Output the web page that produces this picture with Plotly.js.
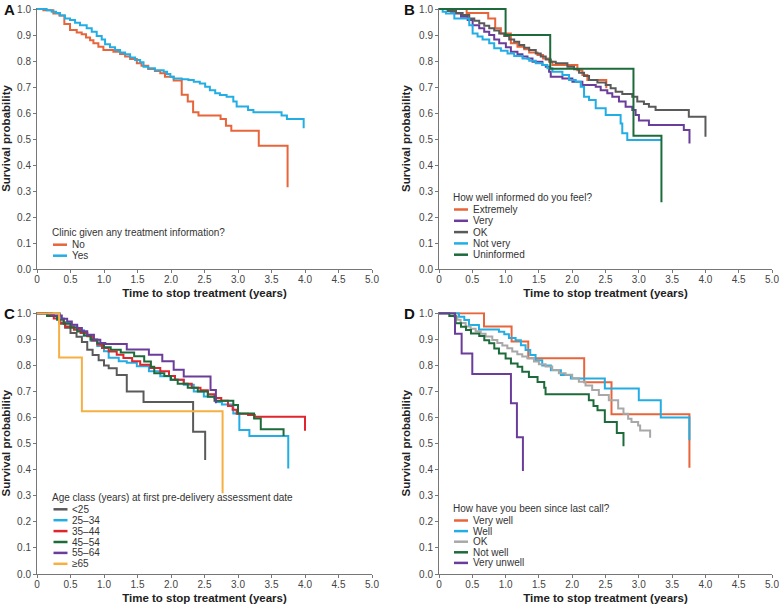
<!DOCTYPE html>
<html><head><meta charset="utf-8">
<script src="https://cdn.plot.ly/plotly-3.0.1.min.js"></script>
<style>html,body{margin:0;padding:0;background:#fff}#chart{width:779px;height:604px}</style>
</head><body><div id="chart"></div>
<script>
// ---------- Tick labels ----------
const xTickVals = [0,0.5,1,1.5,2,2.5,3,3.5,4,4.5,5];
const xTickText = ['0','0.5','1.0','1.5','2.0','2.5','3.0','3.5','4.0','4.5','5.0'];
const yTickVals = [0,0.1,0.2,0.3,0.4,0.5,0.6,0.7,0.8,0.9,1.0];
const yTickText = ['0.0','0.1','0.2','0.3','0.4','0.5','0.6','0.7','0.8','0.9','1.0'];

// ---------- Panel A ----------
const legendTitleA = 'Clinic given any treatment information?';
const namesA = ['No','Yes'];
const noT = [0,0.095,0.244,0.334,0.408,0.493,0.593,0.667,0.732,0.792,0.842,0.916,0.991,1.14,1.24,1.315,1.39,1.49,1.56,1.66,1.76,1.84,1.91,2.04,2.16,2.25,2.33,2.41,2.74,2.82,2.90,3.31,3.74];
const noS = [1.0,0.995,0.983,0.975,0.942,0.919,0.91,0.903,0.891,0.88,0.868,0.855,0.842,0.836,0.827,0.817,0.808,0.791,0.782,0.769,0.762,0.753,0.74,0.725,0.67,0.644,0.603,0.59,0.577,0.551,0.532,0.474,0.314];
const yesT = [0,0.144,0.219,0.284,0.344,0.418,0.493,0.568,0.642,0.742,0.817,0.891,0.966,1.016,1.09,1.165,1.24,1.315,1.39,1.464,1.539,1.59,1.66,1.76,1.89,1.94,1.99,2.04,2.16,2.26,2.34,2.43,2.51,2.58,2.66,2.73,2.83,2.93,2.98,3.15,3.23,3.65,3.73,3.98];
const yesS = [1.0,0.995,0.99,0.985,0.975,0.964,0.958,0.947,0.938,0.926,0.913,0.896,0.883,0.865,0.853,0.842,0.833,0.826,0.814,0.804,0.795,0.778,0.772,0.765,0.759,0.75,0.74,0.733,0.73,0.727,0.72,0.714,0.701,0.688,0.676,0.669,0.663,0.644,0.625,0.612,0.603,0.59,0.577,0.541];

// ---------- Panel B ----------
const legendTitleB = 'How well informed do you feel?';
const namesB = ['Extremely','Very','OK','Not very','Uninformed'];
const extT = [0,0.415,0.739,0.844,0.929,1.079,1.178,1.279,1.354,1.479,1.563,1.653,1.703,2.078,2.153,2.228,2.512];
const extS = [1.0,0.985,0.964,0.926,0.906,0.868,0.855,0.845,0.833,0.823,0.81,0.797,0.785,0.765,0.746,0.727,0.695];
const veryT = [0,0.18,0.255,0.33,0.43,0.505,0.604,0.679,0.754,0.829,0.904,1.004,1.079,1.178,1.253,1.329,1.404,1.553,1.603,1.653,1.678,1.853,2.003,2.153,2.353,2.428,2.527,2.602,2.702,2.802,2.902,2.952,3.002,3.152,3.676,3.761];
const veryS = [1.0,0.99,0.983,0.97,0.958,0.938,0.926,0.913,0.9,0.883,0.868,0.853,0.836,0.826,0.817,0.81,0.797,0.785,0.778,0.759,0.74,0.733,0.72,0.708,0.701,0.688,0.676,0.663,0.644,0.624,0.612,0.592,0.571,0.554,0.535,0.483];
const okBT = [0,0.13,0.255,0.355,0.454,0.53,0.604,0.679,0.754,0.829,0.904,0.979,1.054,1.129,1.204,1.279,1.354,1.453,1.528,1.603,1.678,1.753,1.928,2.028,2.103,2.178,2.253,2.378,2.503,2.577,2.652,2.752,2.902,2.977,3.077,3.152,3.252,3.751,4.001];
const okBS = [1.0,0.992,0.985,0.977,0.964,0.955,0.945,0.936,0.926,0.917,0.906,0.896,0.883,0.874,0.862,0.851,0.842,0.829,0.817,0.806,0.797,0.791,0.778,0.768,0.755,0.742,0.727,0.717,0.708,0.695,0.682,0.673,0.663,0.644,0.635,0.624,0.612,0.586,0.509];
const notT = [0,0.055,0.105,0.23,0.454,0.505,0.579,0.654,0.754,0.829,0.929,1.029,1.129,1.254,1.354,1.453,1.553,1.628,1.703,1.853,1.953,2.053,2.128,2.178,2.253,2.353,2.503,2.727,2.752,2.827,3.342];
const notS = [1.0,0.99,0.983,0.964,0.938,0.906,0.894,0.883,0.868,0.849,0.84,0.829,0.819,0.81,0.801,0.791,0.785,0.772,0.759,0.746,0.727,0.72,0.701,0.663,0.65,0.618,0.592,0.56,0.522,0.496,0.496];
const uninT = [0,1.0,1.67,2.92,3.34];
const uninS = [1.0,0.9,0.77,0.513,0.257];

// ---------- Panel C ----------
const legendTitleC = 'Age class (years) at first pre-delivery assessment date';
const namesC = ['<25','25–34','35–44','45–54','55–64','≥65'];
const lt25T = [0,0.34,0.42,0.5,0.59,0.67,0.75,0.83,0.92,1.0,1.07,1.19,1.34,1.59,2.33,2.51];
const lt25S = [1.0,0.96,0.945,0.925,0.91,0.89,0.86,0.84,0.82,0.80,0.789,0.763,0.70,0.66,0.546,0.437];
const a2534T = [0,0.2,0.3,0.4,0.5,0.6,0.7,0.8,0.9,1.0,1.07,1.22,1.34,1.49,1.67,1.84,1.99,2.19,2.34,2.49,2.67,2.76,2.93,3.02,3.17,3.75];
const a2534S = [1.0,0.99,0.98,0.965,0.95,0.935,0.915,0.895,0.875,0.855,0.83,0.816,0.81,0.797,0.778,0.759,0.745,0.726,0.70,0.681,0.66,0.65,0.616,0.552,0.529,0.405];
const a3544T = [0,0.15,0.25,0.33,0.42,0.55,0.65,0.75,0.82,0.9,0.97,1.07,1.19,1.29,1.42,1.54,1.69,1.84,1.97,2.06,2.19,2.31,2.44,2.55,2.65,2.75,2.85,2.92,2.98,3.15,3.25,4.0];
const a3544S = [1.0,0.995,0.98,0.965,0.95,0.937,0.925,0.912,0.896,0.88,0.867,0.854,0.841,0.829,0.816,0.803,0.79,0.778,0.76,0.745,0.73,0.715,0.705,0.69,0.675,0.665,0.645,0.63,0.615,0.61,0.603,0.55];
const a4554T = [0,0.15,0.3,0.4,0.5,0.6,0.7,0.8,0.9,1.0,1.1,1.25,1.45,1.6,1.7,1.75,1.9,2.0,2.1,2.25,2.4,2.55,2.65,2.93,3.0,3.24,3.34,3.68];
const a4554S = [1.0,0.99,0.975,0.96,0.945,0.93,0.915,0.9,0.885,0.87,0.86,0.85,0.835,0.815,0.795,0.77,0.76,0.745,0.73,0.715,0.70,0.68,0.665,0.648,0.616,0.597,0.555,0.529];
const a5564T = [0,0.22,0.37,0.45,0.52,0.6,0.67,0.75,0.85,0.945,1.02,1.34,1.67,1.87,2.04,2.19,2.59,2.67];
const a5564S = [1.0,0.992,0.979,0.969,0.956,0.944,0.931,0.918,0.899,0.886,0.882,0.861,0.841,0.816,0.784,0.758,0.706,0.655];
const a65T = [0,0.33,0.67,2.77];
const a65S = [1.0,0.831,0.624,0.31];

// ---------- Panel D ----------
const legendTitleD = 'How have you been since last call?';
const namesD = ['Very well','Well','OK','Not well','Very unwell'];
const vwT = [0,0.676,1.09,1.34,2.18,2.59,3.76];
const vwS = [1.0,0.95,0.892,0.828,0.736,0.613,0.408];
const wellT = [0,0.3,0.38,0.45,0.6,0.9,0.98,1.05,1.15,1.23,1.3,1.37,1.45,1.55,1.68,1.83,1.98,2.49,3.0,3.33,3.76];
const wellS = [1.0,0.987,0.974,0.955,0.938,0.929,0.92,0.905,0.897,0.878,0.859,0.84,0.82,0.80,0.782,0.763,0.75,0.712,0.667,0.60,0.513];
const okDT = [0,0.225,0.275,0.325,0.40,0.475,0.55,0.626,0.70,0.80,0.876,0.951,1.026,1.10,1.176,1.25,1.326,1.426,1.50,1.60,1.70,1.80,1.90,2.00,2.10,2.20,2.30,2.40,2.55,2.69,2.77,2.84,2.89,2.99,3.02,3.17];
const okDS = [1.0,0.988,0.975,0.963,0.95,0.941,0.931,0.922,0.911,0.898,0.886,0.877,0.866,0.854,0.843,0.834,0.828,0.815,0.805,0.796,0.783,0.77,0.764,0.751,0.738,0.723,0.706,0.687,0.667,0.635,0.615,0.596,0.583,0.57,0.551,0.523];
const nwT = [0,0.155,0.25,0.33,0.405,0.48,0.604,0.68,0.754,0.83,0.90,1.0,1.08,1.18,1.25,1.35,1.48,1.58,1.6,2.25,2.32,2.38,2.49,2.67,2.77];
const nwS = [1.0,0.99,0.962,0.949,0.936,0.923,0.913,0.897,0.885,0.865,0.846,0.827,0.808,0.795,0.776,0.756,0.737,0.715,0.69,0.667,0.645,0.628,0.583,0.541,0.49];
const vuT = [0,0.24,0.34,0.5,1.08,1.17,1.26];
const vuS = [1.0,0.922,0.846,0.767,0.655,0.525,0.395];

// ---------- Colours ----------
const cRed = '#E8643A', cBlue = '#22AEE4', cPurple = '#6A3D9A', cDGray = '#5A5A5A',
      cGreen = '#1D6B3B', cRed2 = '#E0252F', cYellow = '#F6B042', cLGray = '#A8A8A8';

// ---------- Layout geometry ----------
const W = 779, H = 604;
const M = {l:37, r:7, t:8, b:30};
const PW = W - M.l - M.r, PH = H - M.t - M.b;
const px = x => (x - M.l) / PW;
const py = y => (H - M.b - y) / PH;

const panels = [
  {xa:'x',  ya:'y',  xd:[px(37),px(372)], yd:[py(269),py(8)], letter:'A', lx:2, ly:9,
   title:legendTitleA, tx:51, ty:232.7, step:11,
   series:[[noT,noS,namesA[0],cRed],[yesT,yesS,namesA[1],cBlue]]},
  {xa:'x2', ya:'y2', xd:[px(439),px(772)], yd:[py(269),py(8)], letter:'B', lx:402, ly:9,
   title:legendTitleB, tx:452, ty:197.5, step:11.3,
   series:[[extT,extS,namesB[0],cRed],[veryT,veryS,namesB[1],cPurple],[okBT,okBS,namesB[2],cDGray],[notT,notS,namesB[3],cBlue],[uninT,uninS,namesB[4],cGreen]]},
  {xa:'x3', ya:'y3', xd:[px(37),px(372)], yd:[py(574),py(312.3)], letter:'C', lx:2, ly:313,
   title:legendTitleC, tx:51.5, ty:497.3, step:10.9,
   series:[[lt25T,lt25S,namesC[0],cDGray],[a2534T,a2534S,namesC[1],cBlue],[a3544T,a3544S,namesC[2],cRed2],[a4554T,a4554S,namesC[3],cGreen],[a5564T,a5564S,namesC[4],cPurple],[a65T,a65S,namesC[5],cYellow]]},
  {xa:'x4', ya:'y4', xd:[px(439),px(772)], yd:[py(574),py(312.3)], letter:'D', lx:402, ly:313,
   title:legendTitleD, tx:452, ty:508.5, step:10.6,
   series:[[vwT,vwS,namesD[0],cRed],[wellT,wellS,namesD[1],cBlue],[okDT,okDS,namesD[2],cLGray],[nwT,nwS,namesD[3],cGreen],[vuT,vuS,namesD[4],cPurple]]}
];

const FONT = 'Liberation Sans, Arial, Helvetica, sans-serif';
const traces = [], annotations = [], shapes = [];
const layout = {
  width: W, height: H, margin: M, showlegend: false,
  paper_bgcolor: '#fff', plot_bgcolor: '#fff',
  font: {family: FONT, size: 10, color: '#333'}
};

panels.forEach((p, i) => {
  const sfx = i === 0 ? '' : String(i + 1);
  layout['xaxis' + sfx] = {
    domain: p.xd, anchor: p.ya, range: [0, 5],
    tickvals: xTickVals, ticktext: xTickText,
    ticks: 'outside', ticklen: 3, tickcolor: '#777', tickwidth: 1,
    ticklabelstandoff: -2, ticklabeloverflow: 'allow',
    showline: true, linecolor: '#777', linewidth: 1,
    showgrid: false, zeroline: false, fixedrange: true,
    tickfont: {size: 10, color: '#444'},
    title: {text: 'Time to stop treatment (years)', standoff: 4,
            font: {size: 11.5, color: '#222', weight: 700}}
  };
  layout['yaxis' + sfx] = {
    domain: p.yd, anchor: p.xa, range: [0, 1.004],
    tickvals: yTickVals, ticktext: yTickText,
    ticks: 'outside', ticklen: 3, tickcolor: '#777', tickwidth: 1,
    showline: true, linecolor: '#777', linewidth: 1,
    showgrid: false, zeroline: false, fixedrange: true,
    tickfont: {size: 10, color: '#444'},
    title: {text: 'Survival probability', standoff: 6,
            font: {size: 11.5, color: '#222', weight: 700}}
  };
  p.series.forEach((s, k) => {
    traces.push({
      type: 'scatter', mode: 'lines', x: s[0], y: s[1], name: s[2],
      xaxis: p.xa, yaxis: p.ya, line: {shape: 'hv', color: s[3], width: 2},
      hoverinfo: 'skip'
    });
    const yy = p.ty + 12 + k * p.step;
    shapes.push({type: 'line', xref: 'paper', yref: 'paper',
      x0: px(p.tx + 2), x1: px(p.tx + 16), y0: py(yy), y1: py(yy),
      line: {color: s[3], width: 2.5}});
    annotations.push({xref: 'paper', yref: 'paper', x: px(p.tx + 18.5), y: py(yy),
      xanchor: 'left', yanchor: 'middle', showarrow: false, text: s[2],
      font: {size: 10, color: '#333'}});
  });
  annotations.push({xref: 'paper', yref: 'paper', x: px(p.tx - 1.5), y: py(p.ty),
    xanchor: 'left', yanchor: 'middle', showarrow: false, text: p.title,
    font: {size: 10, color: '#333'}});
  annotations.push({xref: 'paper', yref: 'paper', x: px(p.lx), y: py(p.ly),
    xanchor: 'left', yanchor: 'middle', showarrow: false, text: p.letter,
    font: {size: 15, color: '#111', weight: 700}});
});
layout.annotations = annotations;
layout.shapes = shapes;

Plotly.newPlot('chart', traces, layout, {displayModeBar: false, staticPlot: true});
</script></body></html>
